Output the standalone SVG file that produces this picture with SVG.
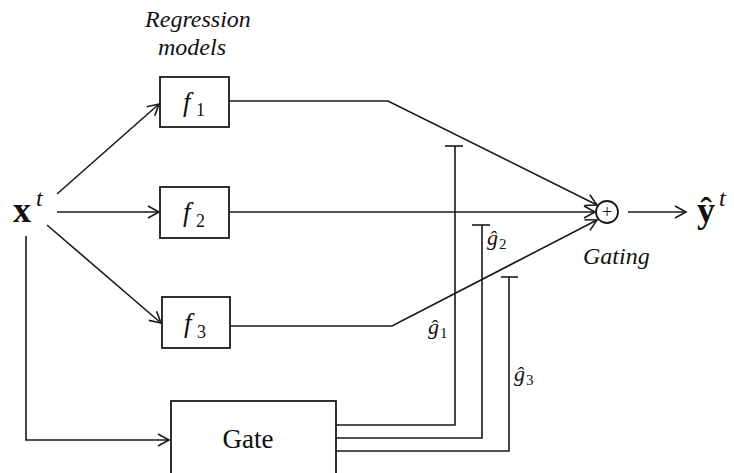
<svg xmlns="http://www.w3.org/2000/svg" width="734" height="473" viewBox="0 0 734 473">
<style>
.ln{fill:none;stroke:#1a1a1a;stroke-width:1.6}
.bx{fill:#fff;stroke:#1a1a1a;stroke-width:1.8}
.t{font-family:"Liberation Serif","DejaVu Serif",serif;fill:#111}
.it{font-style:italic}
.bd{font-weight:bold}
</style>
<defs>
<marker id="ar" markerWidth="14" markerHeight="14" refX="12" refY="7" orient="auto" markerUnits="userSpaceOnUse">
<path d="M1,1 L12,7 L1,13" fill="none" stroke="#1a1a1a" stroke-width="1.6"/>
</marker>
</defs>
<rect width="734" height="473" fill="#fff"/>

<g id="connectors">
<line class="ln" x1="57" y1="194" x2="159" y2="104" marker-end="url(#ar)"/>
<line class="ln" x1="57" y1="212" x2="159" y2="212" marker-end="url(#ar)"/>
<line class="ln" x1="47" y1="225" x2="161" y2="323" marker-end="url(#ar)"/>
<polyline class="ln" points="26,236 26,440 169,440" marker-end="url(#ar)"/>
<polyline class="ln" points="229,101 388,101 597,205" marker-end="url(#ar)"/>
<line class="ln" x1="229" y1="212" x2="595" y2="212" marker-end="url(#ar)"/>
<polyline class="ln" points="230,326 392,326 597,220" marker-end="url(#ar)"/>
<line class="ln" x1="628" y1="212" x2="686" y2="212" marker-end="url(#ar)"/>
<polyline class="ln" points="336,425 455,425 455,146"/>
<line class="ln" x1="445" y1="146" x2="463" y2="146"/>
<polyline class="ln" points="336,438 482,438 482,225"/>
<line class="ln" x1="472" y1="225" x2="490" y2="225"/>
<polyline class="ln" points="336,451 509,451 509,277"/>
<line class="ln" x1="501" y1="277" x2="518" y2="277"/>
</g>

<g id="input">
<text class="t bd" x="13" y="222" font-size="36">x</text>
<text class="t it" x="36" y="206" font-size="24">t</text>
</g>

<g id="title">
<text class="t it" x="198" y="27" font-size="24" text-anchor="middle">Regression</text>
<text class="t it" x="192" y="55" font-size="24" text-anchor="middle">models</text>
</g>

<g id="f1">
<rect class="bx" x="160" y="77" width="69" height="50"/>
<text class="t it" x="183" y="111" font-size="27">f</text>
<text class="t" x="196" y="116" font-size="18">1</text>
</g>

<g id="f2">
<rect class="bx" x="160" y="187" width="69" height="51"/>
<text class="t it" x="183" y="221" font-size="27">f</text>
<text class="t" x="196" y="227" font-size="18">2</text>
</g>

<g id="f3">
<rect class="bx" x="162" y="297" width="68" height="51"/>
<text class="t it" x="184" y="332" font-size="27">f</text>
<text class="t" x="197" y="338" font-size="18">3</text>
</g>

<g id="gate">
<rect class="bx" x="171" y="401" width="165" height="80"/>
<text class="t" x="248" y="448" font-size="27" text-anchor="middle">Gate</text>
</g>

<g id="gating">
<circle class="bx" cx="607" cy="212" r="11" stroke-width="1.6"/>
<text class="t" x="607" y="218" font-size="18" text-anchor="middle">+</text>
<text class="t it" x="583" y="264" font-size="24">Gating</text>
</g>

<g id="output">
<text class="t bd" x="697" y="222" font-size="36">ŷ</text>
<text class="t it" x="719" y="206" font-size="24">t</text>
</g>

<g id="g1">
<text class="t it" x="428" y="334" font-size="22">ĝ</text>
<text class="t" x="440" y="338" font-size="15">1</text>
</g>
<g id="g2">
<text class="t it" x="487" y="245" font-size="22">ĝ</text>
<text class="t" x="499" y="249" font-size="15">2</text>
</g>
<g id="g3">
<text class="t it" x="514" y="381" font-size="22">ĝ</text>
<text class="t" x="526" y="385" font-size="15">3</text>
</g>
</svg>
